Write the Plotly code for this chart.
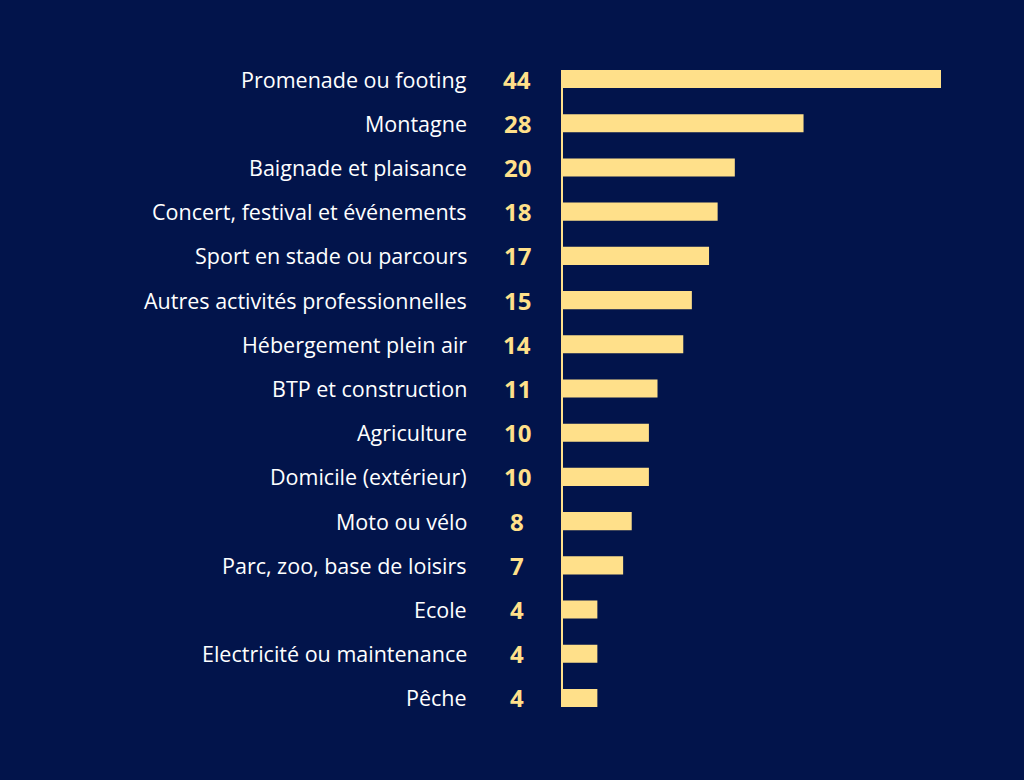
import plotly.graph_objects as go

activites = [
    "Promenade ou footing",
    "Montagne",
    "Baignade et plaisance",
    "Concert, festival et événements",
    "Sport en stade ou parcours",
    "Autres activités professionnelles",
    "Hébergement plein air",
    "BTP et construction",
    "Agriculture",
    "Domicile (extérieur)",
    "Moto ou vélo",
    "Parc, zoo, base de loisirs",
    "Ecole",
    "Electricité ou maintenance",
    "Pêche",
]
nombres = [44, 28, 20, 18, 17, 15, 14, 11, 10, 10, 8, 7, 4, 4, 4]

fond = "#02144b"
jaune = "#ffe08a"

fig = go.Figure()
fig.add_trace(go.Bar(
    x=nombres, y=activites, orientation="h",
    marker=dict(color=jaune, line=dict(width=0)),
    width=0.41, hoverinfo="x+y",
))

# noms des activités et valeurs, à gauche de l'axe
for nom, n in zip(activites, nombres):
    fig.add_annotation(x=0, xref="paper", y=nom, yref="y", text=nom,
                       showarrow=False, xanchor="right", xshift=-94,
                       font=dict(family="Open Sans", size=21.5, color="white"))
    fig.add_annotation(x=0, xref="paper", y=nom, yref="y", text="<b>%d</b>" % n,
                       showarrow=False, xanchor="center", xshift=-46,
                       font=dict(family="Open Sans", size=24, color=jaune))

fig.update_layout(
    width=1024, height=780,
    paper_bgcolor=fond, plot_bgcolor=fond,
    margin=dict(l=563, r=83, t=70, b=73),
    showlegend=False,
)
fig.update_xaxes(range=[0, 44], visible=False, showgrid=False, zeroline=False)
fig.update_yaxes(range=[14.205, -0.205], showticklabels=False, showgrid=False,
                 zeroline=False, showline=True, linecolor=jaune, linewidth=2,
                 ticks="")

fig.write_html("out.html", config={"displayModeBar": False},
               post_script="document.body.style.margin='0';"
                           "document.body.style.overflow='hidden';"
                           "document.body.style.background='%s';" % fond)
